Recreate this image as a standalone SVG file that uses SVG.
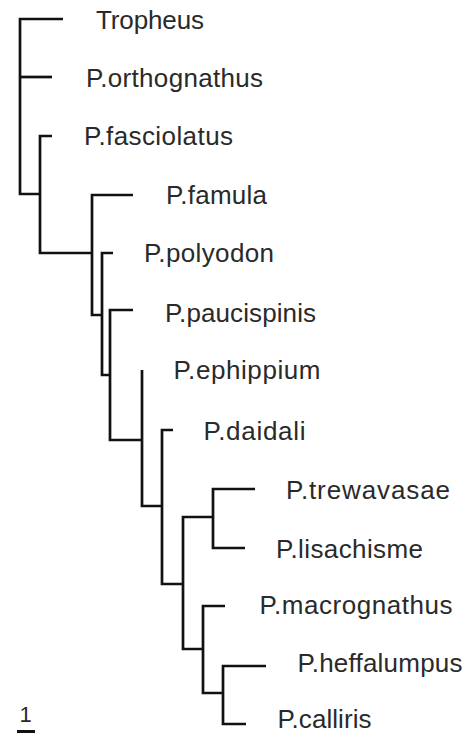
<svg xmlns="http://www.w3.org/2000/svg" width="469" height="733" viewBox="0 0 469 733">
  <style>
    .br { fill: none; stroke: #111; stroke-width: 2.7; stroke-linejoin: miter; stroke-linecap: butt; }
    .lbl { font-family: "Liberation Sans", Arial, sans-serif; font-size: 26px; fill: #2a2a2a; }
    .sc { font-family: "Liberation Sans", Arial, sans-serif; font-size: 22px; fill: #2a2a2a; text-anchor: middle; }
  </style>
  <rect x="0" y="0" width="469" height="733" fill="#ffffff"/>
  <g id="connectors">
    <!-- root -->
    <path class="br" d="M63,19 H20 V194 H40"/>
    <path class="br" d="M20,77 H52"/>
    <!-- node A -->
    <path class="br" d="M52,136 H40 V253 H92"/>
    <!-- node B -->
    <path class="br" d="M133,195 H92 V315 H102"/>
    <!-- node C -->
    <path class="br" d="M113,253 H102 V375 H110"/>
    <!-- node D -->
    <path class="br" d="M133,310 H110 V440 H142"/>
    <!-- node E (ephippium) -->
    <path class="br" d="M142,370 V506 H162"/>
    <!-- node F (daidali) -->
    <path class="br" d="M173,430 H162 V584 H183"/>
    <!-- node G -->
    <path class="br" d="M213,517 H183 V649 H203"/>
    <!-- node H -->
    <path class="br" d="M255,489 H213 V548 H245"/>
    <!-- node I -->
    <path class="br" d="M225,606 H203 V693 H223"/>
    <!-- node J -->
    <path class="br" d="M266,666 H223 V724 H246"/>
  </g>
  <g id="n-tropheus"><text class="lbl" x="96" y="29" textLength="108">Tropheus</text></g>
  <g id="n-orthognathus"><text class="lbl" x="86" y="87" textLength="177">P.orthognathus</text></g>
  <g id="n-fasciolatus"><text class="lbl" x="84" y="144.5" textLength="149">P.fasciolatus</text></g>
  <g id="n-famula"><text class="lbl" x="166" y="204" textLength="101">P.famula</text></g>
  <g id="n-polyodon"><text class="lbl" x="144" y="262" textLength="130">P.polyodon</text></g>
  <g id="n-paucispinis"><text class="lbl" x="165" y="321.5" textLength="151">P.paucispinis</text></g>
  <g id="n-ephippium"><text class="lbl" x="173.5" y="378.5" textLength="147">P.ephippium</text></g>
  <g id="n-daidali"><text class="lbl" x="203.5" y="440" textLength="102">P.daidali</text></g>
  <g id="n-trewavasae"><text class="lbl" x="286" y="498.5" textLength="164">P.trewavasae</text></g>
  <g id="n-lisachisme"><text class="lbl" x="276" y="557.5" textLength="147">P.lisachisme</text></g>
  <g id="n-macrognathus"><text class="lbl" x="259.5" y="613.5" textLength="193">P.macrognathus</text></g>
  <g id="n-heffalumpus"><text class="lbl" x="297.5" y="672" textLength="165">P.heffalumpus</text></g>
  <g id="n-calliris"><text class="lbl" x="277.5" y="727.5" textLength="94">P.calliris</text></g>
  <g id="scale-bar">
    <text class="sc" x="25.5" y="722">1</text>
    <line x1="17" y1="731.5" x2="35" y2="731.5" stroke="#111" stroke-width="3"/>
  </g>
</svg>
